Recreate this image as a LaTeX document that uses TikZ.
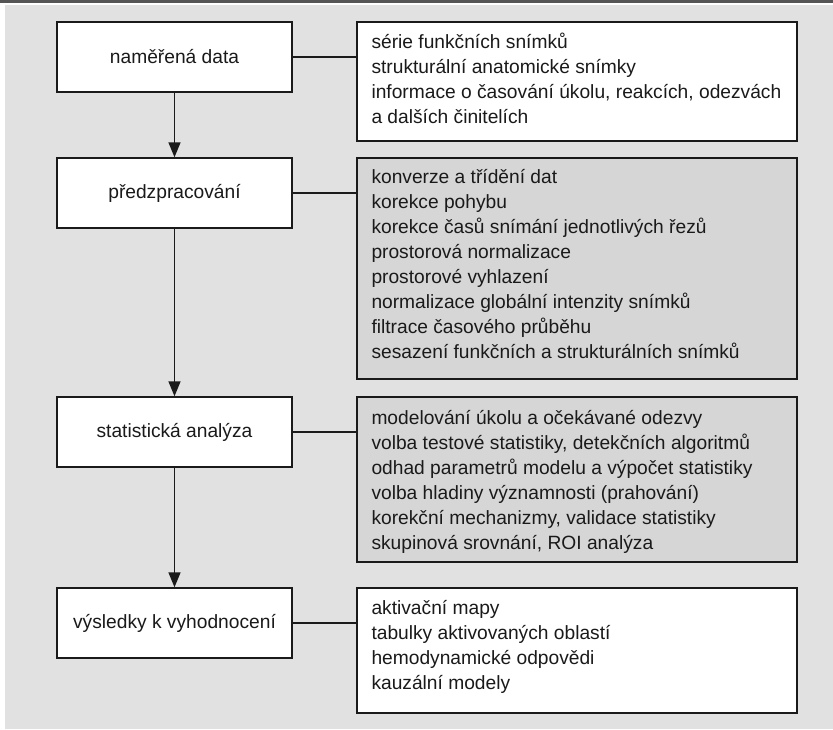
\documentclass[tikz,border=0pt]{standalone}
\usepackage{fontspec}
\setmainfont{Liberation Sans}
\usetikzlibrary{arrows.meta}
\definecolor{bg}{HTML}{E1E1E1}
\definecolor{bar}{HTML}{555555}
\definecolor{boxgray}{HTML}{D6D6D6}
\definecolor{edge}{HTML}{1A1A1A}
\begin{document}
\begin{tikzpicture}[x=1pt,y=-1pt,
  stage/.style={draw=edge,line width=1.4pt,fill=white,minimum width=235pt,minimum height=70pt,inner sep=0pt,text=edge,font=\fontsize{19.2}{25}\selectfont},
  infobox/.style={draw=edge,line width=1.4pt,minimum width=440pt,inner sep=0pt},
  infotext/.style={anchor=north west,align=left,inner sep=0pt,text=edge,font=\fontsize{19.2}{25}\selectfont},
  link/.style={draw=edge,line width=1.4pt},
  flow/.style={link,-{Triangle[width=12pt,length=15pt]}}]
\useasboundingbox (0,0) rectangle (833,729);
\fill[white] (0,0) rectangle (833,729);
\fill[bar] (0,0) rectangle (833,3);
\fill[bg] (5,5) rectangle (833,729);

\node[stage] (s1) at (174.5,57) {naměřená data};
\node[stage] (s2) at (174.5,193) {předzpracování};
\node[stage] (s3) at (174.5,432) {statistická analýza};
\node[stage] (s4) at (174.5,623) {výsledky k vyhodnocení};

\node[infobox,fill=white,minimum height=119pt] (r1) at (577,81.5) {};
\node[infobox,fill=boxgray,minimum height=221pt] (r2) at (577,268.5) {};
\node[infobox,fill=boxgray,minimum height=165pt] (r3) at (577,479.5) {};
\node[infobox,fill=white,minimum height=125pt] (r4) at (577,650.5) {};

\node[infotext] (t1) at ([xshift=15pt,yshift=-9pt]r1.north west) {\rule{0pt}{18pt}série funkčních snímků\\
strukturální anatomické snímky\\
informace o časování úkolu, reakcích, odezvách\\
a dalších činitelích};
\node[infotext] (t2) at ([xshift=15pt,yshift=-8pt]r2.north west) {\rule{0pt}{18pt}konverze a třídění dat\\
korekce pohybu\\
korekce časů snímání jednotlivých řezů\\
prostorová normalizace\\
prostorové vyhlazení\\
normalizace globální intenzity snímků\\
filtrace časového průběhu\\
sesazení funkčních a strukturálních snímků};
\node[infotext] (t3) at ([xshift=15pt,yshift=-10pt]r3.north west) {\rule{0pt}{18pt}modelování úkolu a očekávané odezvy\\
volba testové statistiky, detekčních algoritmů\\
odhad parametrů modelu a výpočet statistiky\\
volba hladiny významnosti (prahování)\\
korekční mechanizmy, validace statistiky\\
skupinová srovnání, ROI analýza};
\node[infotext] (t4) at ([xshift=15pt,yshift=-9pt]r4.north west) {\rule{0pt}{18pt}aktivační mapy\\
tabulky aktivovaných oblastí\\
hemodynamické odpovědi\\
kauzální modely};

\draw[link] (s1.east) -- (s1.east -| r1.west);
\draw[link] (s2.east) -- (s2.east -| r2.west);
\draw[link] (s3.east) -- (s3.east -| r3.west);
\draw[link] (s4.east) -- (s4.east -| r4.west);

\draw[flow] (s1.south) -- (s2.north);
\draw[flow] (s2.south) -- (s3.north);
\draw[flow] (s3.south) -- (s4.north);
\end{tikzpicture}
\end{document}
